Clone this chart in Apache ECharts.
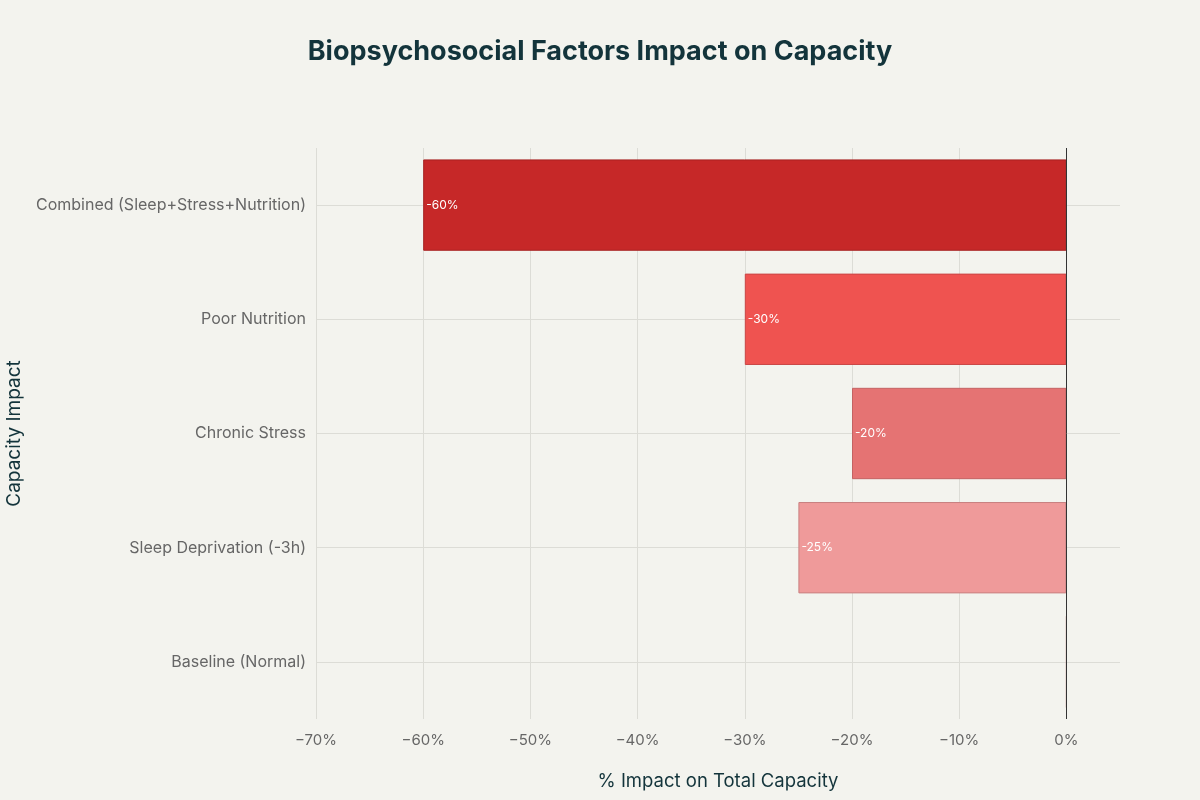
<!DOCTYPE html>
<html>
<head>
<meta charset="utf-8">
<script src="https://cdn.jsdelivr.net/npm/echarts@6/dist/echarts.min.js"></script>
<style>html,body{margin:0;padding:0;background:#F3F3EE;}#c{width:1200px;height:800px;}</style>
</head>
<body>
<div id="c"></div>
<script>
const categories = ['Baseline (Normal)', 'Sleep Deprivation (-3h)', 'Chronic Stress', 'Poor Nutrition', 'Combined (Sleep+Stress+Nutrition)'];
const impactValues = [0, -25, -20, -30, -60];
const barColors = ['#EF9A9A', '#EF9A9A', '#E57373', '#EF5350', '#C62828'];
const borderColors = ['#C98080', '#C98080', '#C46262', '#C94545', '#A82222'];
const xTickValues = [-70, -60, -50, -40, -30, -20, -10, 0];

const chart = echarts.init(document.getElementById('c'));
const font = 'Inter, "Liberation Sans", sans-serif';
chart.setOption({
  backgroundColor: '#F3F3EE',
  textStyle: { fontFamily: font },
  title: {
    text: 'Biopsychosocial Factors Impact on Capacity',
    left: 'center', top: 33,
    textStyle: { fontSize: 27, fontWeight: 'bold', color: '#13343B', fontFamily: font }
  },
  grid: { left: 316, right: 80, top: 148, bottom: 81, outerBoundsMode: 'none', containLabel: false },
  xAxis: {
    type: 'value', min: -70, max: 5,
    name: '% Impact on Total Capacity', nameLocation: 'middle', nameGap: 53,
    nameTextStyle: { fontSize: 18.5, color: '#13343B' },
    axisLine: { show: false }, axisTick: { show: false, customValues: xTickValues },
    axisLabel: { customValues: xTickValues, formatter: v => (v < 0 ? '\u2212' + Math.abs(v) : v) + '%', fontSize: 15, color: '#666', margin: 14 },
    splitLine: { show: true, showMaxLine: false, lineStyle: { color: '#DCDCD6', width: 1 } }
  },
  yAxis: {
    type: 'category', data: categories,
    name: 'Capacity Impact', nameLocation: 'middle', nameGap: 292, nameRotate: 90,
    nameTextStyle: { fontSize: 19, color: '#13343B' },
    axisLine: { show: false }, axisTick: { show: false, alignWithLabel: true },
    axisLabel: { fontSize: 16, color: '#666', margin: 10 },
    splitLine: { show: true, alignWithLabel: true, lineStyle: { color: '#DCDCD6' } }
  },
  series: [{
    type: 'bar', data: impactValues.map((v, i) => ({ value: v, itemStyle: { color: barColors[i], borderColor: borderColors[i], borderWidth: 1 } })),
    barCategoryGap: '20%',
    label: { show: true, position: 'insideLeft', offset: [-2, 0], color: '#fff', fontSize: 12, formatter: p => p.value === 0 ? '' : p.value + '%' },
    markLine: { silent: true, symbol: 'none', label: { show: false }, lineStyle: { color: '#333', width: 1, type: 'solid' }, data: [{ xAxis: 0 }] }
  }]
});
</script>
</body>
</html>
